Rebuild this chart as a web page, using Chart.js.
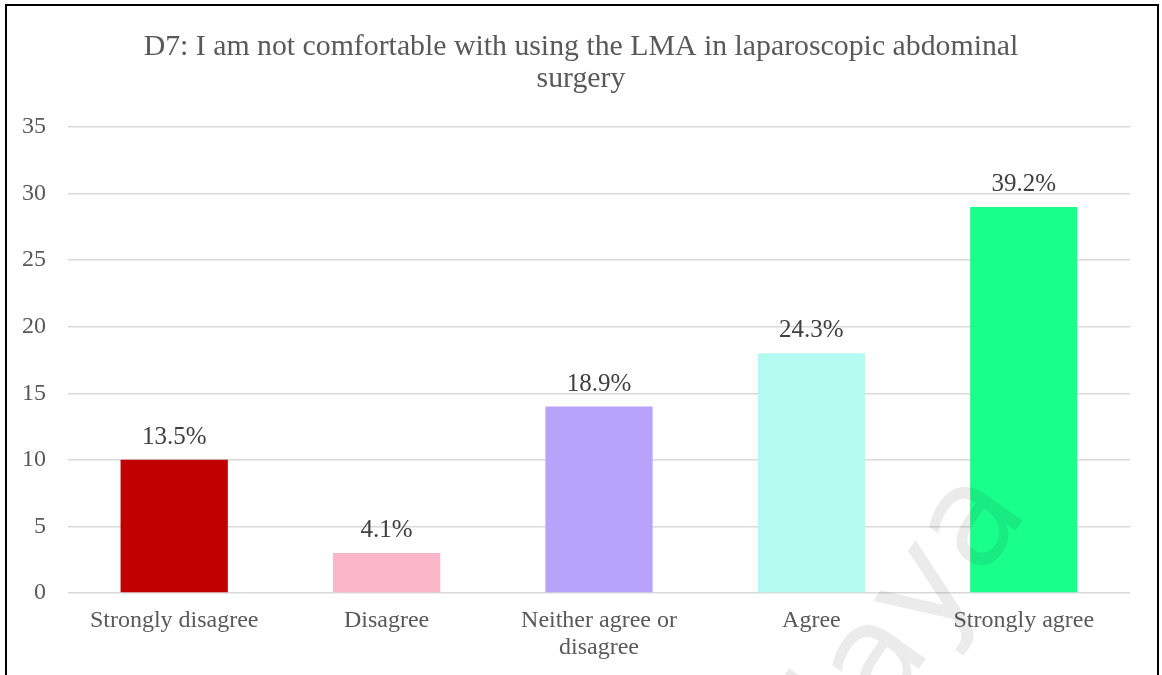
<!DOCTYPE html>
<html>
<head>
<meta charset="utf-8">
<script src="https://cdn.jsdelivr.net/npm/chart.js@4.4.1/dist/chart.umd.min.js"></script>
<style>
  html, body { margin: 0; padding: 0; background: #fff; overflow: hidden; }
  #wrap { position: relative; width: 1162px; height: 675px; }
  #frame {
    position: absolute; left: 5px; top: 4px; width: 1150px; height: 720px;
    border: 2px solid #000; pointer-events: none;
  }
</style>
</head>
<body>
<div id="wrap">
  <canvas id="d7Chart" width="1162" height="675"></canvas>
  <div id="frame"></div>
</div>
<script>
// responses to item D7 (number of respondents)
const categories = ["Strongly disagree", "Disagree", ["Neither agree or", "disagree"], "Agree", "Strongly agree"];
const counts = [10, 3, 14, 18, 29];
const barColors = ["#C00000", "#FBB5C8", "#B8A2FA", "#B5FAF0", "#1AFF8C"];
const yTicks = [0, 5, 10, 15, 20, 25, 30, 35];

const total = counts.reduce((a, b) => a + b, 0);
const percents = counts.map(c => (c / total * 100).toFixed(1) + "%");

const serif = "'Liberation Serif', 'Times New Roman', serif";

//percent labels above each bar
const barLabels = {
    id: "barLabels",
    afterDatasetsDraw(chart) {
        const ctx = chart.ctx;
        const meta = chart.getDatasetMeta(0);
        ctx.save();
        ctx.font = "25px " + serif;
        ctx.fillStyle = "#404040";
        ctx.textAlign = "center";
        ctx.textBaseline = "alphabetic";
        meta.data.forEach((bar, i) => {
            ctx.fillText(percents[i], bar.x, bar.y - 16);
        });
        ctx.restore();
    }
};

//faint watermark across the lower right
const watermark = {
    id: "watermark",
    afterDraw(chart) {
        const ctx = chart.ctx;
        ctx.save();
        ctx.translate(1030, 510);
        ctx.rotate(-55 * Math.PI / 180);
        ctx.font = "140px 'DejaVu Sans', sans-serif";
        ctx.fillStyle = "rgba(0,0,0,0.08)";
        ctx.textAlign = "right";
        ctx.textBaseline = "alphabetic";
        ctx.fillText("Malaya", 0, 0);
        ctx.restore();
    }
};

new Chart(document.getElementById("d7Chart"), {
    type: "bar",
    data: {
        labels: categories,
        datasets: [{
            data: counts,
            backgroundColor: barColors,
            barPercentage: 1,
            categoryPercentage: 0.505
        }]
    },
    options: {
        responsive: false,
        animation: false,
        layout: {padding: 0},
        plugins: {
            legend: {display: false},
            tooltip: {enabled: false},
            title: {
                display: true,
                text: ["D7: I am not comfortable with using the LMA in laparoscopic abdominal", "surgery"],
                color: "#595959",
                font: {family: serif, size: 29.8, weight: "normal", lineHeight: "32px"},
                padding: {top: 31, bottom: 32}
            }
        },
        scales: {
            x: {
                grid: {display: false, drawTicks: false},
                border: {display: false},
                ticks: {
                    color: "#595959",
                    font: {family: serif, size: 24, lineHeight: "27px"},
                    padding: 14,
                    maxRotation: 0,
                    autoSkip: false
                },
                afterFit(scale) { scale.height = 82; }
            },
            y: {
                min: 0,
                max: 35,
                afterBuildTicks(scale) { scale.ticks = yTicks.map(v => ({value: v})); },
                grid: {color: "#d9d9d9", lineWidth: 1.5, drawTicks: false},
                border: {display: false},
                ticks: {
                    color: "#595959",
                    font: {family: serif, size: 24},
                    padding: 22
                },
                afterFit(scale) { scale.width = 68; }
            },
            //empty right margin so the title stays centred on the page
            margin: {
                type: "linear",
                position: "right",
                grid: {display: false, drawTicks: false},
                border: {display: false},
                ticks: {display: false},
                afterFit(scale) { scale.width = 32; }
            }
        }
    },
    plugins: [barLabels, watermark]
});
</script>
</body>
</html>
